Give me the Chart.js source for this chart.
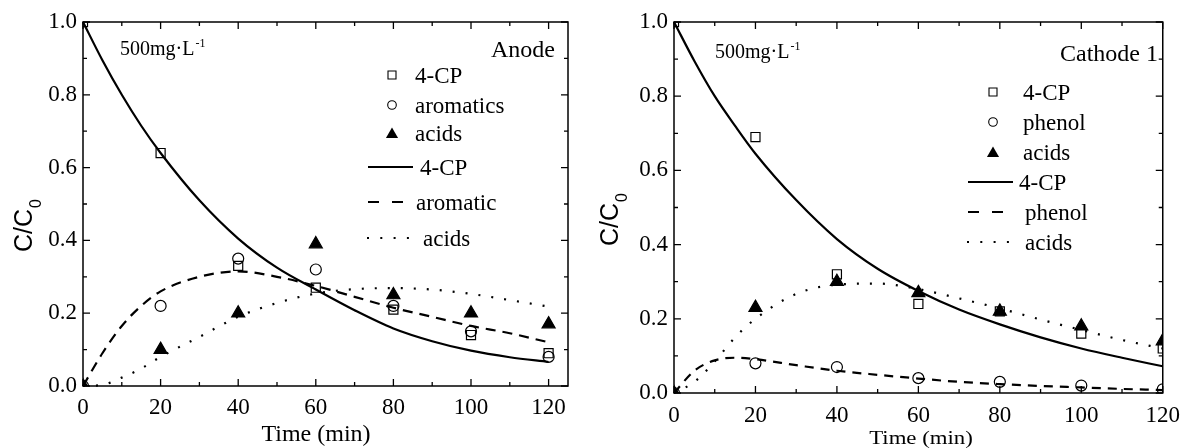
<!DOCTYPE html>
<html>
<head>
<meta charset="utf-8">
<script src="https://cdn.jsdelivr.net/npm/chart.js@4"></script>
<style>
  body { margin: 0; background: #fff; }
  #wrap { position: relative; width: 1189px; height: 448px; }
  canvas { position: absolute; top: 0; }
</style>
</head>
<body>
<div id="wrap">
  <canvas id="anode" width="590" height="448" style="left:0"></canvas>
  <canvas id="cathode" width="599" height="448" style="left:590px"></canvas>
</div>
<script>
// ===== DATA =====
const timeMeasured = [0, 20, 40, 60, 80, 100, 120];
const fitTime = [0, 5, 10, 15, 20, 30, 40, 50, 60, 70, 80, 90, 100, 110, 120];
const xTickLabels = [0, 20, 40, 60, 80, 100, 120];
const yTickLabels = [0, 0.2, 0.4, 0.6, 0.8, 1.0];

// Anode (measured)
const anodeCP = [1.0, 0.64, 0.33, 0.27, 0.21, 0.14, 0.09];
const anodeArom = [0, 0.22, 0.35, 0.32, 0.22, 0.15, 0.08];
const anodeAcids = [0, 0.10, 0.20, 0.39, 0.25, 0.20, 0.17];
// Anode (fitted curves)
const anodeCPFit = [1.0, 0.895, 0.80, 0.715, 0.64, 0.51, 0.405, 0.325, 0.265, 0.208, 0.158, 0.123, 0.097, 0.079, 0.066];
const anodeAromFit = [0, 0.09, 0.165, 0.22, 0.26, 0.30, 0.315, 0.30, 0.275, 0.245, 0.215, 0.19, 0.165, 0.145, 0.12];
const anodeAcidsFit = [0, 0.003, 0.023, 0.048, 0.08, 0.135, 0.19, 0.228, 0.254, 0.266, 0.269, 0.265, 0.253, 0.236, 0.218];

// Cathode 1 (measured)
const cathCP = [1.0, 0.69, 0.32, 0.24, 0.22, 0.16, 0.12];
const cathPhenol = [0, 0.08, 0.07, 0.04, 0.03, 0.02, 0.01];
const cathAcids = [0, 0.23, 0.30, 0.27, 0.22, 0.18, 0.14];
// Cathode 1 (fitted curves)
const cathCPFit = [1.0, 0.895, 0.80, 0.72, 0.645, 0.52, 0.415, 0.335, 0.275, 0.225, 0.185, 0.15, 0.12, 0.095, 0.072];
const cathPhenolFit = [0, 0.06, 0.088, 0.095, 0.091, 0.075, 0.06, 0.049, 0.039, 0.03, 0.024, 0.019, 0.015, 0.011, 0.008];
const cathAcidsFit = [0, 0.03, 0.085, 0.15, 0.20, 0.267, 0.292, 0.295, 0.28, 0.255, 0.228, 0.198, 0.17, 0.143, 0.12];

// ===== HELPERS =====
const SERIF = '"Liberation Serif", "Times New Roman", serif';
const SANS = '"Liberation Sans", Arial, sans-serif';

const pts = (xs, ys) => xs.map((x, i) => ({ x: x, y: ys[i] }));

const lineDs = (label, ys, dash) => ({
    label: label,
    data: pts(fitTime, ys),
    showLine: true,
    pointRadius: 0,
    borderColor: '#000',
    borderWidth: 2.2,
    borderDash: dash,
    cubicInterpolationMode: 'monotone',
    fill: false,
    clip: 1
});

const markDs = (label, ys, style, r, filled) => ({
    label: label,
    data: pts(timeMeasured, ys),
    showLine: false,
    pointStyle: style,
    pointRadius: r,
    pointBorderColor: '#000',
    pointBackgroundColor: filled ? '#000' : 'rgba(0,0,0,0)',
    pointBorderWidth: 1.2,
    clip: 0
});

function text(ctx, str, x, y, size, align, sx, family) {
    ctx.save();
    ctx.font = size + 'px ' + (family || SERIF);
    ctx.textBaseline = 'alphabetic';
    ctx.fillStyle = '#000';
    const w = ctx.measureText(str).width * sx;
    const x0 = align === 'right' ? x - w : align === 'center' ? x - w / 2 : x;
    ctx.translate(x0, y);
    ctx.scale(sx, 1);
    ctx.fillText(str, 0, 0);
    ctx.restore();
    return x0 + w;
}

function marker(ctx, style, cx, cy, r) {
    ctx.beginPath();
    if (style === 'rect') {
        ctx.rect(cx - r, cy - r, 2 * r, 2 * r);
        ctx.stroke();
    } else if (style === 'circle') {
        ctx.arc(cx, cy, r, 0, Math.PI * 2);
        ctx.stroke();
    } else {
        ctx.moveTo(cx, cy - r);
        ctx.lineTo(cx + r * 1.1, cy + r * 0.9);
        ctx.lineTo(cx - r * 1.1, cy + r * 0.9);
        ctx.closePath();
        ctx.fill();
    }
}

// frame, inward ticks, titles, legend, notes
function makeDecor(cfg) {
    return {
        id: 'decor',
        afterDraw(chart) {
            const { ctx, chartArea: a, scales: { x, y } } = chart;
            ctx.save();
            ctx.strokeStyle = '#000';
            ctx.fillStyle = '#000';
            ctx.lineWidth = 1.5;
            ctx.strokeRect(a.left, a.top, a.right - a.left, a.bottom - a.top);

            const xMinor = xTickLabels.slice(1).map((v, i) => (v + xTickLabels[i]) / 2);
            const yMinor = yTickLabels.slice(1).map((v, i) => (v + yTickLabels[i]) / 2);
            const tickX = (v, len) => {
                const p = x.getPixelForValue(v);
                ctx.moveTo(p, a.bottom); ctx.lineTo(p, a.bottom - len);
                ctx.moveTo(p, a.top); ctx.lineTo(p, a.top + len);
            };
            const tickY = (v, len) => {
                const p = y.getPixelForValue(v);
                ctx.moveTo(a.left, p); ctx.lineTo(a.left + len, p);
                ctx.moveTo(a.right, p); ctx.lineTo(a.right - len, p);
            };
            ctx.beginPath();
            ctx.lineWidth = 1.3;
            xTickLabels.forEach(v => tickX(v, 7));
            xMinor.forEach(v => tickX(v, 4));
            yTickLabels.forEach(v => tickY(v, 7));
            yMinor.forEach(v => tickY(v, 4));
            ctx.stroke();

            // x title
            text(ctx, 'Time (min)', cfg.xTitle.x, cfg.xTitle.y, cfg.xTitle.size, 'center', cfg.xTitle.sx);

            // y title C/C0, rotated
            ctx.save();
            ctx.translate(cfg.yTitle.x, cfg.yTitle.y);
            ctx.rotate(-Math.PI / 2);
            const end = text(ctx, 'C/C', 0, 0, 25, 'left', 1, SANS);
            text(ctx, '0', end + 1, 9, 16, 'left', 1, SANS);
            ctx.restore();

            // concentration note
            const e = text(ctx, '500mg\u00b7L', cfg.note.x, cfg.note.y, 20, 'left', 1);
            text(ctx, '-1', e + 1, cfg.note.y - 8, 12, 'left', 1);

            // panel name
            text(ctx, cfg.name.label, cfg.name.x, cfg.name.y, 24, 'right', 1);

            // legend
            ctx.lineWidth = 1.1;
            cfg.legend.forEach(row => {
                if (row.kind === 'line') {
                    ctx.save();
                    ctx.lineWidth = 2.2;
                    ctx.setLineDash(row.dash);
                    ctx.beginPath();
                    ctx.moveTo(row.x0, row.y);
                    ctx.lineTo(row.x1, row.y);
                    ctx.stroke();
                    ctx.restore();
                } else {
                    marker(ctx, row.kind, row.x0, row.y, row.r);
                }
                text(ctx, row.label, row.tx, row.y + 7.5, 23, 'left', 1);
            });
            ctx.restore();
        }
    };
}

function buildChart(id, cfg) {
    const canvas = document.getElementById(id);
    const W = canvas.width, H = canvas.height;
    return new Chart(canvas, {
        type: 'scatter',
        data: { datasets: cfg.datasets },
        options: {
            responsive: false,
            animation: false,
            devicePixelRatio: 1,
            layout: { padding: { top: cfg.area.top, right: W - cfg.area.right, left: 0, bottom: 0 } },
            plugins: { legend: { display: false }, tooltip: { enabled: false } },
            scales: {
                x: {
                    type: 'linear',
                    min: 0,
                    max: cfg.xMax,
                    afterBuildTicks: s => { s.ticks = xTickLabels.map(v => ({ value: v })); },
                    afterFit: s => { s.height = H - cfg.area.bottom; },
                    grid: { display: false, drawTicks: false },
                    border: { display: false },
                    ticks: {
                        color: '#000',
                        font: { family: SERIF, size: 23 },
                        padding: cfg.xPad,
                        maxRotation: 0,
                        autoSkip: false
                    }
                },
                y: {
                    type: 'linear',
                    min: 0,
                    max: 1,
                    afterBuildTicks: s => { s.ticks = yTickLabels.map(v => ({ value: v })); },
                    afterFit: s => { s.width = cfg.area.left; },
                    grid: { display: false, drawTicks: false },
                    border: { display: false },
                    ticks: {
                        color: '#000',
                        font: { family: SERIF, size: 23 },
                        padding: 6,
                        callback: v => v.toFixed(1)
                    }
                }
            }
        },
        plugins: [makeDecor(cfg)]
    });
}

// ===== ANODE =====
buildChart('anode', {
    area: { left: 83, right: 568, top: 22, bottom: 386 },
    xMax: 125,
    xPad: 8,
    datasets: [
        lineDs('4-CP', anodeCPFit, []),
        lineDs('aromatic', anodeAromFit, [10, 7]),
        lineDs('acids', anodeAcidsFit, [2, 11]),
        markDs('4-CP', anodeCP, 'rect', 6.4, false),
        markDs('aromatics', anodeArom, 'circle', 5.5, false),
        markDs('acids', anodeAcids, 'triangle', 7.5, true)
    ],
    xTitle: { x: 316, y: 441, size: 24, sx: 1 },
    yTitle: { x: 32, y: 252 },
    note: { x: 120, y: 55 },
    name: { label: 'Anode', x: 555, y: 57 },
    legend: [
        { kind: 'rect', label: '4-CP', x0: 392, y: 75, r: 4, tx: 415 },
        { kind: 'circle', label: 'aromatics', x0: 392, y: 105, r: 4.3, tx: 415 },
        { kind: 'tri', label: 'acids', x0: 392, y: 133, r: 5.5, tx: 415 },
        { kind: 'line', label: '4-CP', x0: 368, x1: 413, y: 167, dash: [], tx: 420 },
        { kind: 'line', label: 'aromatic', x0: 368, x1: 403, y: 202, dash: [11, 13], tx: 416 },
        { kind: 'line', label: 'acids', x0: 367, x1: 411, y: 238, dash: [2, 11.3], tx: 423 }
    ]
});

// ===== CATHODE 1 =====
buildChart('cathode', {
    area: { left: 84, right: 579, top: 22, bottom: 393 },
    xMax: 120,
    xPad: 9,
    datasets: [
        lineDs('4-CP', cathCPFit, []),
        lineDs('phenol', cathPhenolFit, [9, 7]),
        lineDs('acids', cathAcidsFit, [2, 11]),
        markDs('4-CP', cathCP, 'rect', 6.4, false),
        markDs('phenol', cathPhenol, 'circle', 5.5, false),
        markDs('acids', cathAcids, 'triangle', 7.5, true)
    ],
    xTitle: { x: 331, y: 444, size: 19, sx: 1.2 },
    yTitle: { x: 28, y: 246 },
    note: { x: 125, y: 58 },
    name: { label: 'Cathode 1', x: 568, y: 61 },
    legend: [
        { kind: 'rect', label: '4-CP', x0: 403, y: 92, r: 4, tx: 433 },
        { kind: 'circle', label: 'phenol', x0: 403, y: 122, r: 4.3, tx: 433 },
        { kind: 'tri', label: 'acids', x0: 403, y: 152, r: 5.5, tx: 433 },
        { kind: 'line', label: '4-CP', x0: 378, x1: 423, y: 182, dash: [], tx: 429 },
        { kind: 'line', label: 'phenol', x0: 378, x1: 413, y: 212, dash: [11, 13], tx: 435 },
        { kind: 'line', label: 'acids', x0: 377, x1: 421, y: 242, dash: [2, 11.3], tx: 435 }
    ]
});
</script>
</body>
</html>
